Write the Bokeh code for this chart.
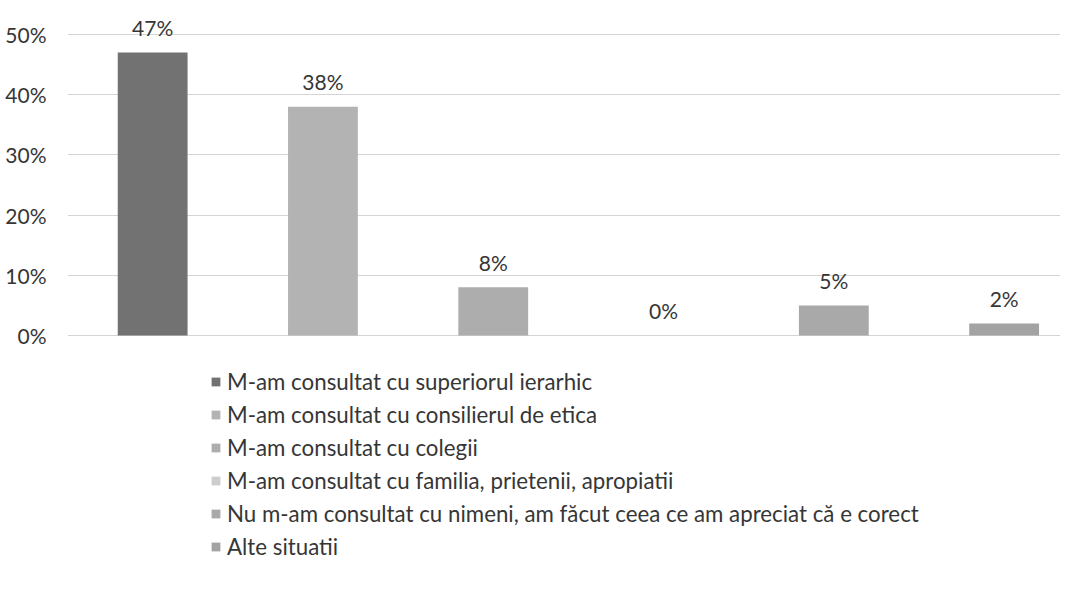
from bokeh.plotting import figure
from bokeh.models import ColumnDataSource, Range1d, FixedTicker, Legend, LegendItem
from bokeh.embed import file_html
from bokeh.resources import INLINE
from bokeh.core.properties import value

categories = [
    "M-am consultat cu superiorul ierarhic",
    "M-am consultat cu consilierul de etica",
    "M-am consultat cu colegii",
    "M-am consultat cu familia, prietenii, apropiatii",
    "Nu m-am consultat cu nimeni, am făcut ceea ce am apreciat că e corect",
    "Alte situatii",
]
values = [0.47, 0.38, 0.08, 0.00, 0.05, 0.02]
labels = ["47%", "38%", "8%", "0%", "5%", "2%"]
colors = ["#727272", "#b3b3b3", "#adadad", "#cdcdcd", "#a9a9a9", "#a3a3a3"]
tick_values = [0.0, 0.1, 0.2, 0.3, 0.4, 0.5]
tick_labels = ["0%", "10%", "20%", "30%", "40%", "50%"]

positions = list(range(len(categories)))
source = ColumnDataSource(dict(x=positions, top=values, cat=categories,
                               color=colors, label=labels))

FONT = "Lato"
TXT = "#363636"

p = figure(width=1060, height=578, output_backend="svg", toolbar_location=None,
           x_range=Range1d(-0.5, 5.331), y_range=Range1d(-0.4037, 0.5565),
           min_border_left=67, min_border_right=0, min_border_top=0,
           min_border_bottom=0)
p.outline_line_color = None
p.background_fill_color = "white"

r = p.vbar(x="x", top="top", bottom=0, width=0.41, fill_color="color",
           line_color=None, source=source)

p.text(x="x", y="top", text="label", source=source, text_align="center",
       text_baseline="middle", y_offset=-25, text_font=value(FONT),
       text_font_size="21px", text_color=TXT)

p.xaxis.visible = False
p.xgrid.visible = False
p.yaxis.ticker = FixedTicker(ticks=tick_values)
p.yaxis.major_label_overrides = {v: l for v, l in zip(tick_values, tick_labels)}
p.yaxis.axis_line_color = None
p.yaxis.major_tick_line_color = None
p.yaxis.minor_tick_line_color = None
p.yaxis.major_label_text_font = FONT
p.yaxis.major_label_text_font_size = "21px"
p.yaxis.major_label_text_color = TXT
p.yaxis.major_label_standoff = 15
p.ygrid.ticker = FixedTicker(ticks=tick_values)
p.ygrid.grid_line_color = "#d4d4d4"
p.ygrid.grid_line_width = 1

items = [LegendItem(label=c, renderers=[r], index=i) for i, c in enumerate(categories)]
legend = Legend(items=items, location=(143, 18), orientation="vertical",
                border_line_color=None, background_fill_alpha=0,
                label_text_font=FONT, label_text_font_size="22.3px",
                label_text_color=TXT, glyph_width=11, glyph_height=11,
                label_height=26, spacing=6, label_standoff=6,
                padding=0, margin=0)
p.add_layout(legend)

open("out.html", "w").write(file_html(p, INLINE))
